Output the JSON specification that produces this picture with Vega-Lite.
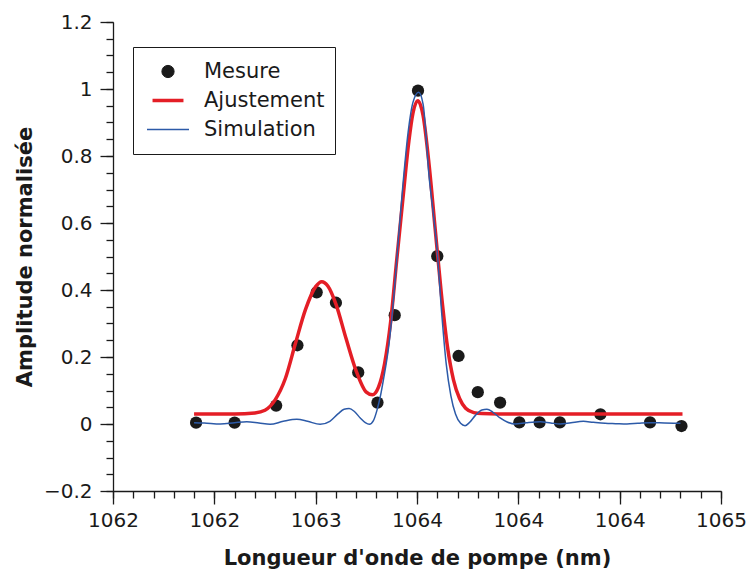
{
  "$schema": "https://vega.github.io/schema/vega-lite/v6.json",
  "width": 608,
  "height": 469,
  "autosize": {"type": "none"},
  "padding": {"left": 113, "top": 22, "right": 29, "bottom": 86},
  "background": "white",
  "config": {
    "view": {"stroke": null},
    "font": "DejaVu Sans",
    "legend": {
      "orient": "none", "legendX": 20, "legendY": 25,
      "padding": 10, "strokeColor": "#1a1a1a", "fillColor": "white",
      "clipHeight": 29, "rowPadding": 0,
      "symbolOffset": 3, "labelOffset": 14, "symbolOpacity": 1,
      "labelFont": "DejaVu Sans", "labelFontSize": 21, "labelColor": "#1a1a1a"
    }
  },
  "datasets": {
    "mesure": [
      {"x": 1062.91, "y": 0.004, "series": "Mesure"},
      {"x": 1063.10, "y": 0.004, "series": "Mesure"},
      {"x": 1063.305, "y": 0.055, "series": "Mesure"},
      {"x": 1063.41, "y": 0.235, "series": "Mesure"},
      {"x": 1063.505, "y": 0.393, "series": "Mesure"},
      {"x": 1063.60, "y": 0.362, "series": "Mesure"},
      {"x": 1063.71, "y": 0.154, "series": "Mesure"},
      {"x": 1063.805, "y": 0.064, "series": "Mesure"},
      {"x": 1063.89, "y": 0.325, "series": "Mesure"},
      {"x": 1064.005, "y": 0.995, "series": "Mesure"},
      {"x": 1064.10, "y": 0.501, "series": "Mesure"},
      {"x": 1064.205, "y": 0.203, "series": "Mesure"},
      {"x": 1064.30, "y": 0.095, "series": "Mesure"},
      {"x": 1064.41, "y": 0.064, "series": "Mesure"},
      {"x": 1064.505, "y": 0.005, "series": "Mesure"},
      {"x": 1064.605, "y": 0.005, "series": "Mesure"},
      {"x": 1064.705, "y": 0.005, "series": "Mesure"},
      {"x": 1064.905, "y": 0.029, "series": "Mesure"},
      {"x": 1065.15, "y": 0.005, "series": "Mesure"},
      {"x": 1065.305, "y": -0.006, "series": "Mesure"}
    ],
    "ajustement": [
      {"x": 1062.90, "y": 0.030, "series": "Ajustement"},
      {"x": 1063.10, "y": 0.030, "series": "Ajustement"},
      {"x": 1063.20, "y": 0.033, "series": "Ajustement"},
      {"x": 1063.25, "y": 0.041, "series": "Ajustement"},
      {"x": 1063.30, "y": 0.072, "series": "Ajustement"},
      {"x": 1063.35, "y": 0.135, "series": "Ajustement"},
      {"x": 1063.40, "y": 0.240, "series": "Ajustement"},
      {"x": 1063.45, "y": 0.342, "series": "Ajustement"},
      {"x": 1063.50, "y": 0.410, "series": "Ajustement"},
      {"x": 1063.53, "y": 0.425, "series": "Ajustement"},
      {"x": 1063.56, "y": 0.412, "series": "Ajustement"},
      {"x": 1063.60, "y": 0.358, "series": "Ajustement"},
      {"x": 1063.65, "y": 0.255, "series": "Ajustement"},
      {"x": 1063.70, "y": 0.158, "series": "Ajustement"},
      {"x": 1063.75, "y": 0.095, "series": "Ajustement"},
      {"x": 1063.78, "y": 0.087, "series": "Ajustement"},
      {"x": 1063.81, "y": 0.110, "series": "Ajustement"},
      {"x": 1063.84, "y": 0.180, "series": "Ajustement"},
      {"x": 1063.87, "y": 0.305, "series": "Ajustement"},
      {"x": 1063.90, "y": 0.490, "series": "Ajustement"},
      {"x": 1063.93, "y": 0.670, "series": "Ajustement"},
      {"x": 1063.96, "y": 0.845, "series": "Ajustement"},
      {"x": 1063.98, "y": 0.928, "series": "Ajustement"},
      {"x": 1064.004, "y": 0.965, "series": "Ajustement"},
      {"x": 1064.03, "y": 0.921, "series": "Ajustement"},
      {"x": 1064.06, "y": 0.772, "series": "Ajustement"},
      {"x": 1064.09, "y": 0.580, "series": "Ajustement"},
      {"x": 1064.12, "y": 0.390, "series": "Ajustement"},
      {"x": 1064.15, "y": 0.232, "series": "Ajustement"},
      {"x": 1064.18, "y": 0.132, "series": "Ajustement"},
      {"x": 1064.21, "y": 0.076, "series": "Ajustement"},
      {"x": 1064.24, "y": 0.047, "series": "Ajustement"},
      {"x": 1064.28, "y": 0.034, "series": "Ajustement"},
      {"x": 1064.32, "y": 0.031, "series": "Ajustement"},
      {"x": 1064.40, "y": 0.030, "series": "Ajustement"},
      {"x": 1065.31, "y": 0.030, "series": "Ajustement"}
    ],
    "simulation": [
      {"x": 1062.90, "y": 0.004, "series": "Simulation"},
      {"x": 1062.95, "y": 0.003, "series": "Simulation"},
      {"x": 1063.03, "y": 0.000, "series": "Simulation"},
      {"x": 1063.10, "y": 0.004, "series": "Simulation"},
      {"x": 1063.16, "y": 0.007, "series": "Simulation"},
      {"x": 1063.22, "y": 0.003, "series": "Simulation"},
      {"x": 1063.275, "y": -0.001, "series": "Simulation"},
      {"x": 1063.34, "y": 0.008, "series": "Simulation"},
      {"x": 1063.407, "y": 0.014, "series": "Simulation"},
      {"x": 1063.46, "y": 0.008, "series": "Simulation"},
      {"x": 1063.522, "y": -0.001, "series": "Simulation"},
      {"x": 1063.57, "y": 0.008, "series": "Simulation"},
      {"x": 1063.61, "y": 0.030, "series": "Simulation"},
      {"x": 1063.64, "y": 0.044, "series": "Simulation"},
      {"x": 1063.665, "y": 0.046, "series": "Simulation"},
      {"x": 1063.69, "y": 0.038, "series": "Simulation"},
      {"x": 1063.72, "y": 0.018, "series": "Simulation"},
      {"x": 1063.745, "y": 0.004, "series": "Simulation"},
      {"x": 1063.765, "y": -0.001, "series": "Simulation"},
      {"x": 1063.785, "y": 0.010, "series": "Simulation"},
      {"x": 1063.802, "y": 0.040, "series": "Simulation"},
      {"x": 1063.82, "y": 0.085, "series": "Simulation"},
      {"x": 1063.834, "y": 0.131, "series": "Simulation"},
      {"x": 1063.86, "y": 0.230, "series": "Simulation"},
      {"x": 1063.884, "y": 0.370, "series": "Simulation"},
      {"x": 1063.90, "y": 0.490, "series": "Simulation"},
      {"x": 1063.93, "y": 0.710, "series": "Simulation"},
      {"x": 1063.956, "y": 0.870, "series": "Simulation"},
      {"x": 1063.98, "y": 0.960, "series": "Simulation"},
      {"x": 1064.008, "y": 0.990, "series": "Simulation"},
      {"x": 1064.03, "y": 0.955, "series": "Simulation"},
      {"x": 1064.061, "y": 0.730, "series": "Simulation"},
      {"x": 1064.08, "y": 0.630, "series": "Simulation"},
      {"x": 1064.099, "y": 0.520, "series": "Simulation"},
      {"x": 1064.122, "y": 0.330, "series": "Simulation"},
      {"x": 1064.144, "y": 0.180, "series": "Simulation"},
      {"x": 1064.167, "y": 0.085, "series": "Simulation"},
      {"x": 1064.19, "y": 0.030, "series": "Simulation"},
      {"x": 1064.215, "y": 0.002, "series": "Simulation"},
      {"x": 1064.237, "y": -0.005, "series": "Simulation"},
      {"x": 1064.26, "y": 0.005, "series": "Simulation"},
      {"x": 1064.287, "y": 0.025, "series": "Simulation"},
      {"x": 1064.32, "y": 0.042, "series": "Simulation"},
      {"x": 1064.345, "y": 0.044, "series": "Simulation"},
      {"x": 1064.375, "y": 0.035, "series": "Simulation"},
      {"x": 1064.41, "y": 0.018, "series": "Simulation"},
      {"x": 1064.445, "y": 0.006, "series": "Simulation"},
      {"x": 1064.484, "y": 0.000, "series": "Simulation"},
      {"x": 1064.54, "y": 0.004, "series": "Simulation"},
      {"x": 1064.608, "y": 0.007, "series": "Simulation"},
      {"x": 1064.66, "y": 0.003, "series": "Simulation"},
      {"x": 1064.706, "y": 0.000, "series": "Simulation"},
      {"x": 1064.76, "y": 0.004, "series": "Simulation"},
      {"x": 1064.821, "y": 0.008, "series": "Simulation"},
      {"x": 1064.87, "y": 0.005, "series": "Simulation"},
      {"x": 1064.928, "y": 0.002, "series": "Simulation"},
      {"x": 1064.98, "y": 0.001, "series": "Simulation"},
      {"x": 1065.036, "y": 0.000, "series": "Simulation"},
      {"x": 1065.09, "y": 0.002, "series": "Simulation"},
      {"x": 1065.151, "y": 0.004, "series": "Simulation"},
      {"x": 1065.22, "y": 0.003, "series": "Simulation"},
      {"x": 1065.30, "y": 0.002, "series": "Simulation"}
    ]
  },
  "layer": [
    {
      "data": {"name": "mesure"},
      "mark": {"type": "point", "filled": true, "opacity": 1},
      "encoding": {
        "x": {
          "field": "x", "type": "quantitative",
          "scale": {"domain": [1062.5, 1065.5], "nice": false, "zero": false},
          "axis": {
            "orient": "bottom",
            "values": [1062.5, 1063, 1063.5, 1064, 1064.5, 1065, 1065.5],
            "labelExpr": "['1062','1062','1063','1064','1064','1064','1065'][round((datum.value - 1062.5) * 2)]",
            "grid": false, "tickSize": 13, "tickWidth": 1.3, "tickColor": "#1a1a1a",
            "domainColor": "#1a1a1a", "domainWidth": 1.3,
            "labelFont": "DejaVu Sans", "labelFontSize": 20, "labelColor": "#1a1a1a", "labelPadding": 6,
            "labelFlush": false, "labelOverlap": false, "labelBound": false,
            "title": "Longueur d'onde de pompe (nm)", "titleFont": "DejaVu Sans", "titleFontSize": 21,
            "titleFontWeight": "bold", "titleColor": "#1a1a1a", "titlePadding": 17
          }
        },
        "y": {
          "field": "y", "type": "quantitative",
          "scale": {"domain": [-0.2, 1.2], "nice": false, "zero": false},
          "axis": {
            "orient": "left",
            "values": [-0.2, 0, 0.2, 0.4, 0.6, 0.8, 1, 1.2],
            "format": "~g",
            "grid": false, "tickSize": 13, "tickWidth": 1.3, "tickColor": "#1a1a1a",
            "domainColor": "#1a1a1a", "domainWidth": 1.3,
            "labelFont": "DejaVu Sans", "labelFontSize": 20, "labelColor": "#1a1a1a", "labelPadding": 8,
            "labelFlush": false, "labelOverlap": false, "labelBound": false,
            "title": "Amplitude normalisée", "titleFont": "DejaVu Sans", "titleFontSize": 21,
            "titleFontWeight": "bold", "titleColor": "#1a1a1a", "titlePadding": 8
          }
        },
        "color": {
          "field": "series", "type": "nominal",
          "scale": {"domain": ["Mesure", "Ajustement", "Simulation"], "range": ["#1a1a1a", "#e41e26", "#2c5aa8"]},
          "legend": {"title": null, "labelExpr": "datum.label + '\u00a0\u00a0\u00a0'"}
        },
        "shape": {
          "field": "series", "type": "nominal",
          "scale": {"domain": ["Mesure", "Ajustement", "Simulation"], "range": ["circle", "stroke", "stroke"]},
          "legend": {"title": null, "labelExpr": "datum.label + '\u00a0\u00a0\u00a0'"}
        },
        "size": {
          "field": "series", "type": "nominal",
          "scale": {"domain": ["Mesure", "Ajustement", "Simulation"], "range": [150, 1764, 1764]},
          "legend": {"title": null, "labelExpr": "datum.label + '\u00a0\u00a0\u00a0'"}
        }
      }
    },
    {
      "data": {"name": "ajustement"},
      "mark": {"type": "line", "interpolate": "monotone"},
      "encoding": {
        "x": {
          "field": "x", "type": "quantitative",
          "axis": {
            "orient": "bottom",
            "values": [1062.5, 1062.6, 1062.7, 1062.8, 1062.9, 1063.0, 1063.1, 1063.2, 1063.3, 1063.4, 1063.5, 1063.6, 1063.7, 1063.8, 1063.9, 1064.0, 1064.1, 1064.2, 1064.3, 1064.4, 1064.5, 1064.6, 1064.7, 1064.8, 1064.9, 1065.0, 1065.1, 1065.2, 1065.3, 1065.4, 1065.5],
            "labels": false, "domain": false, "grid": false, "title": null,
            "tickSize": 7, "tickWidth": 1.3, "tickColor": "#1a1a1a"
          }
        },
        "y": {
          "field": "y", "type": "quantitative",
          "axis": {
            "orient": "left",
            "values": [-0.2, -0.15, -0.1, -0.05, 0, 0.05, 0.1, 0.15, 0.2, 0.25, 0.3, 0.35, 0.4, 0.45, 0.5, 0.55, 0.6, 0.65, 0.7, 0.75, 0.8, 0.85, 0.9, 0.95, 1, 1.05, 1.1, 1.15, 1.2],
            "labels": false, "domain": false, "grid": false, "title": null,
            "tickSize": 7, "tickWidth": 1.3, "tickColor": "#1a1a1a"
          }
        },
        "color": {"field": "series", "type": "nominal", "legend": {"title": null, "labelExpr": "datum.label + '\u00a0\u00a0\u00a0'"}},
        "strokeWidth": {
          "field": "series", "type": "nominal",
          "scale": {"type": "ordinal", "domain": ["Mesure", "Ajustement", "Simulation"], "range": [1, 3.5, 1.5]},
          "legend": {"title": null, "labelExpr": "datum.label + '\u00a0\u00a0\u00a0'"}
        }
      }
    },
    {
      "data": {"name": "simulation"},
      "mark": {"type": "line", "interpolate": "monotone"},
      "encoding": {
        "x": {"field": "x", "type": "quantitative", "axis": null},
        "y": {"field": "y", "type": "quantitative", "axis": null},
        "color": {"field": "series", "type": "nominal", "legend": {"title": null, "labelExpr": "datum.label + '\u00a0\u00a0\u00a0'"}},
        "strokeWidth": {
          "field": "series", "type": "nominal",
          "scale": {"type": "ordinal", "domain": ["Mesure", "Ajustement", "Simulation"], "range": [1, 3.5, 1.5]},
          "legend": {"title": null, "labelExpr": "datum.label + '\u00a0\u00a0\u00a0'"}
        }
      }
    }
  ],
  "resolve": {"axis": {"x": "independent", "y": "independent"}}
}
